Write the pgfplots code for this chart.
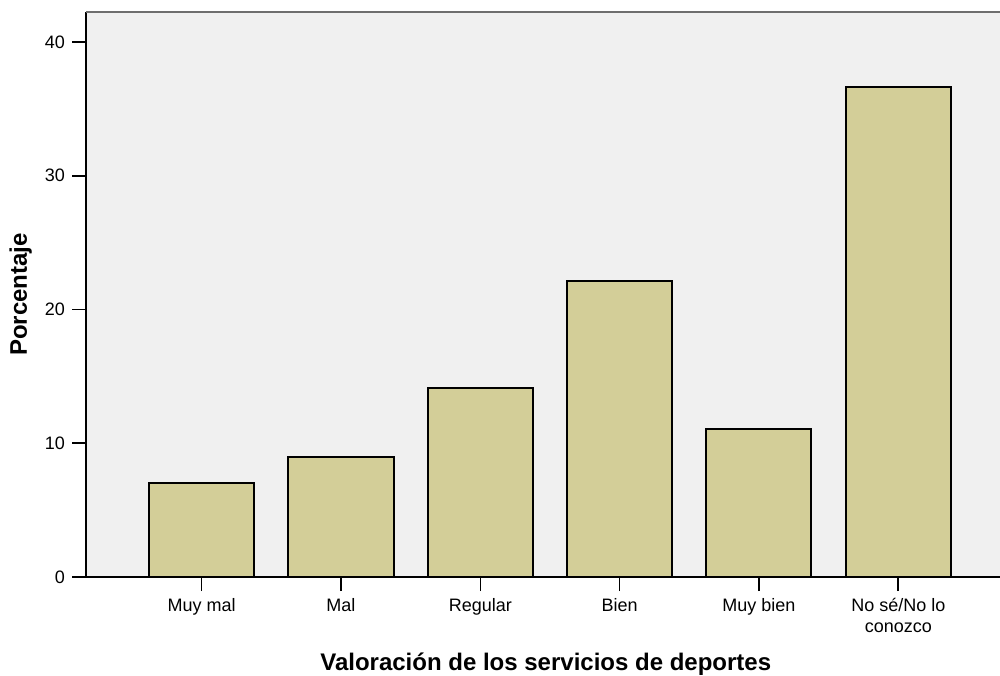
\documentclass[border=0pt]{standalone}
\usepackage{pgfplots}
\pgfplotsset{compat=1.18}
\usepackage{fontspec}
\setmainfont{Liberation Sans}
\definecolor{bgc}{RGB}{240,240,240}
\definecolor{barc}{RGB}{211,206,152}
\definecolor{topc}{RGB}{110,110,110}
\begin{document}
\begin{tikzpicture}
\useasboundingbox (0,0) rectangle (500pt,337.5pt);
\begin{axis}[
  at={(43pt,49pt)}, anchor=south west,
  scale only axis, width=457pt, height=282.5pt,
  xmin=-0.83, xmax=5.73, ymin=0, ymax=42.24,
  axis x line*=bottom, axis y line*=left,
  axis line style={black, line width=0.8pt},
  axis background/.style={fill=bgc},
  tick align=outside, major tick length=7pt,
  tick style={black, line width=0.8pt},
  xtick={0,1,2,3,4,5},
  xticklabels={Muy mal,Mal,Regular,Bien,Muy bien,{No sé/No lo\\conozco}},
  xticklabel style={align=center, font=\fontsize{9}{10.5}\selectfont},
  ytick={0,10,20,30,40},
  yticklabel style={font=\fontsize{9}{10.5}\selectfont},
  /pgf/number format/assume math mode=true,
  xlabel={Valoración de los servicios de deportes},
  ylabel={Porcentaje},
  xlabel style={font=\fontsize{12}{14}\selectfont\bfseries, at={(axis description cs:0.503,-0.1646)}, anchor=base},
  ylabel style={font=\fontsize{12}{14}\selectfont\bfseries, at={(axis description cs:-0.0646,0.5)}, anchor=base, rotate=0},
]
\addplot[ybar, bar width=0.754, fill=barc, draw=black, line width=1pt]
  coordinates {(0,7.0) (1,9.0) (2,14.1) (3,22.1) (4,11.1) (5,36.6)};
\draw[topc, line width=0.9pt] (rel axis cs:0,1) -- (rel axis cs:1,1);
\end{axis}
\end{tikzpicture}
\end{document}
